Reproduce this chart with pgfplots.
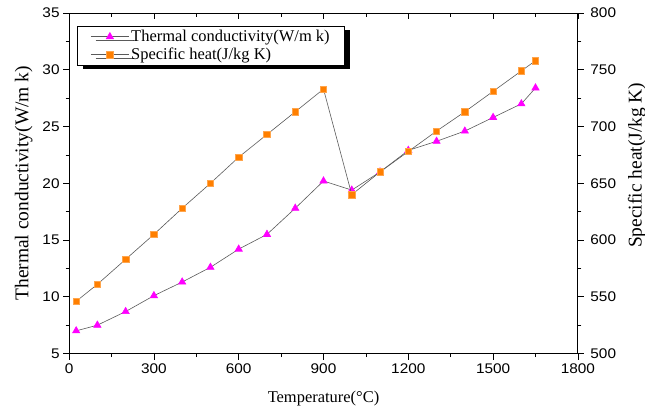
\documentclass[border=0pt]{standalone}
\usepackage{pgfplots}
\pgfplotsset{compat=1.18}
\usepackage{fontspec}
\setmainfont{Liberation Serif}
\setsansfont{Liberation Sans}
\newfontfamily\tickfont[FakeStretch=1.1]{Liberation Sans}
\usetikzlibrary{shadows}
\definecolor{tcmag}{RGB}{255,0,255}
\definecolor{shorange}{RGB}{255,127,0}
\definecolor{lgray}{RGB}{90,90,90}
\begin{document}
\begin{tikzpicture}
\pgfplotsset{
  every axis/.append style={
    width=508bp, height=340bp, scale only axis,
    xmin=0, xmax=1800,
    tick align=outside,
    major tick length=6bp, minor tick length=3.5bp,
    every tick/.style={black, line width=0.8pt},
    axis line style={line width=0.9pt},
    tick label style={font=\tickfont\fontsize{14}{15}\selectfont},
    /pgf/number format/assume math mode=true,
    /pgf/number format/1000 sep={},
    xlabel style={font=\fontsize{16.5}{18}\selectfont},
    ylabel style={font=\fontsize{19.5}{21}\selectfont},
  },
}
\begin{axis}[
  name=main,
  axis y line*=left, axis x line*=bottom,
  xtick={0,300,...,1800}, minor x tick num=1,
  ymin=5, ymax=35, ytick={5,10,...,35}, minor y tick num=1,
  xlabel={Temperature(\textdegree C)},
  ylabel={Thermal conductivity(W/m k)},
  xlabel style={yshift=-10bp},
  ylabel style={yshift=3bp},
  xticklabel style={yshift=-1bp},
  legend cell align=left,
  legend style={at={(0.016,0.962)}, anchor=north west, draw=black, line width=0.6pt,
    fill=white, font=\fontsize{16.5}{17}\selectfont,
    drop shadow={shadow xshift=5bp, shadow yshift=-4bp, fill=black, opacity=1},
    row sep=1pt, inner xsep=13bp, inner ysep=2pt},
  legend image code/.code={\draw[mark repeat=2,mark phase=2]
    plot coordinates {(0bp,0bp) (19bp,0bp) (38bp,0bp)};},
]
\addplot[lgray, line width=0.6pt, mark=triangle*, mark size=4.2pt,
  mark options={tcmag, draw=tcmag, solid}] coordinates {
  (25,7.0) (100,7.5) (200,8.7) (300,10.1) (400,11.3) (500,12.6) (600,14.2)
  (700,15.5) (800,17.8) (900,20.2) (1000,19.4) (1100,21.0) (1200,22.9)
  (1300,23.7) (1400,24.6) (1500,25.8) (1600,27.0) (1650,28.4)
};
\addlegendentry{Thermal conductivity(W/m k)}
\addlegendimage{lgray, line width=0.6pt, mark=square*, mark size=3.2pt,
  mark options={fill=shorange, draw=shorange!70!white, solid}}
\addlegendentry{Specific heat(J/kg K)}
\end{axis}
% top axis with inward ticks
\begin{axis}[
  axis y line=none, axis x line*=top, tick align=inside,
  xtick={0,300,...,1800}, minor x tick num=1, xticklabels={},
  ymin=5, ymax=35,
]
\end{axis}
\begin{axis}[
  axis y line*=right, axis x line=none,
  ymin=500, ymax=800, ytick={500,550,...,800}, minor y tick num=1,
  ylabel={Specific heat(J/kg K)},
  ylabel style={yshift=-5bp, xshift=18bp},
  yticklabel style={xshift=3bp},
]
\addplot[lgray, line width=0.6pt, mark=square*, mark size=3.2pt,
  mark options={fill=shorange, draw=shorange!70!white, solid}] coordinates {
  (25,546) (100,561) (200,583) (300,605) (400,628) (500,650) (600,673)
  (700,693) (800,713) (900,733) (1000,640) (1100,660) (1200,678)
  (1300,696) (1400,713) (1500,731) (1600,749) (1650,758)
};
\end{axis}
\pgfresetboundingbox
\path[use as bounding box] ([shift={(-69bp,-60bp)}]main.south west)
  rectangle ([shift={(67bp,13bp)}]main.north east);
\end{tikzpicture}
\end{document}
